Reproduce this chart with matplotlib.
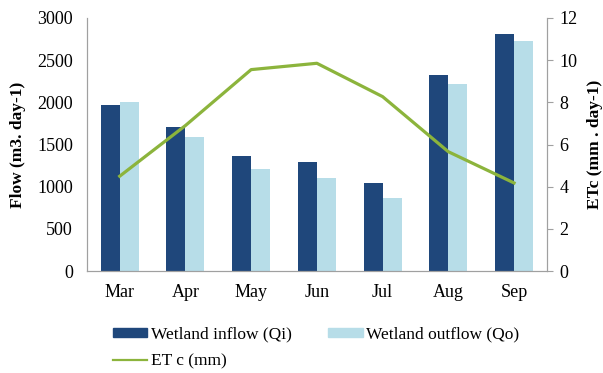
import numpy as np
from matplotlib import pyplot as plt
from matplotlib.lines import Line2D
from matplotlib.patches import Patch

months = ["Mar", "Apr", "May", "Jun", "Jul", "Aug", "Sep"]
inflow = [1965, 1705, 1360, 1296, 1040, 2328, 2807]
outflow = [2004, 1585, 1210, 1100, 866, 2218, 2724]
etc = [4.5, 6.9, 9.55, 9.85, 8.27, 5.66, 4.18]

dark_blue = "#1f477b"
light_blue = "#b7dde8"
green = "#8cb43c"
spine_col = "#a0a0a0"

plt.rcParams["font.family"] = ["Liberation Serif", "DejaVu Serif"]
plt.rcParams["font.size"] = 13

fig = plt.figure(figsize=(6.03, 3.73), dpi=100)
ax = fig.add_axes([0.144, 0.273, 0.763, 0.679])
ax2 = ax.twinx()

x = np.arange(len(months))
w = 0.29
ax.bar(x - w / 2, inflow, width=w, color=dark_blue, zorder=2)
ax.bar(x + w / 2, outflow, width=w, color=light_blue, zorder=2)
ax2.plot(x, etc, color=green, lw=2.3, zorder=3)

ax.set_xlim(-0.5, len(months) - 0.5)
ax.set_ylim(0, 3000)
ax.set_yticks(np.arange(0, 3001, 500))
ax.set_xticks(x)
ax.set_xticklabels(months)
ax2.set_ylim(0, 12)
ax2.set_yticks(np.arange(0, 13, 2))

ax.set_ylabel("Flow (m3. day-1)", fontweight="bold", fontsize=12.5, labelpad=8)
ax2.set_ylabel("ETc (mm . day-1)", fontweight="bold", fontsize=12.5, labelpad=7)

for a in (ax, ax2):
    a.spines["top"].set_visible(False)
    for s in ("left", "right", "bottom"):
        a.spines[s].set_color(spine_col)
ax.tick_params(axis="y", length=0, pad=10)
ax.tick_params(axis="x", length=0, pad=9)
ax2.tick_params(axis="y", length=4, color=spine_col, pad=5)

handles = [
    Patch(color=dark_blue),
    Line2D([], [], color=green, lw=1.6),
    Patch(color=light_blue),
]
labels = ["Wetland inflow (Qi)", "ET c (mm)", "Wetland outflow (Qo)"]
fig.legend(handles, labels, ncol=2, loc="upper left",
           bbox_to_anchor=(0.187, 0.125), frameon=False, fontsize=12.5,
           handlelength=2.0, handleheight=0.45, handletextpad=0.2,
           columnspacing=2.1, labelspacing=0.65, borderaxespad=0,
           borderpad=0)

fig.savefig("out.png", dpi=100)
